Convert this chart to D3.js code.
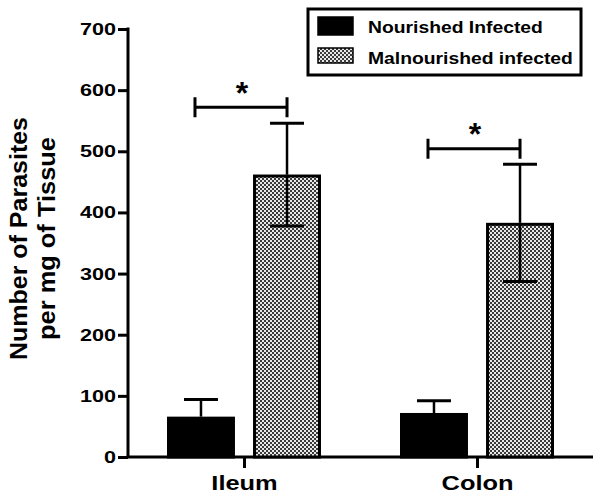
<!DOCTYPE html>
<html>
<head>
<meta charset="utf-8">
<script src="https://cdn.jsdelivr.net/npm/d3@7/dist/d3.min.js"></script>
<style>
  html, body { margin:0; padding:0; background:#fff; overflow:hidden; }
  svg { display:block; }
  svg text { font-family:"Liberation Sans", Arial, sans-serif; font-weight:bold; fill:#000; }
</style>
</head>
<body>
<svg id="chart" width="600" height="499"></svg>
<script>
/* data */
const tissues   = ["Ileum", "Colon"];
const groups    = ["Nourished Infected", "Malnourished infected"];
const means     = { Ileum:[66, 462], Colon:[72, 383] };
const sems      = { Ileum:[28, 84],  Colon:[20, 96] };
const yTicks    = [0, 100, 200, 300, 400, 500, 600, 700];
const sigLevels = { Ileum:572, Colon:504 };

const svg = d3.select("#chart");

/* the original figure's lettering is wider than Liberation Sans, so stretch it */
function widen(sel, k){
  sel.each(function(){
    const w = this.getComputedTextLength();
    d3.select(this).attr("textLength", w*k).attr("lengthAdjust","spacingAndGlyphs");
  });
}

/* checker pattern for the malnourished bars */
const defs = svg.append("defs");
const pat = defs.append("pattern")
  .attr("id","checker").attr("patternUnits","userSpaceOnUse")
  .attr("width",4).attr("height",4);
pat.append("rect").attr("width",4).attr("height",4).attr("fill","#e8e8e8");
pat.append("rect").attr("width",2).attr("height",2).attr("fill","#3a3a3a");
pat.append("rect").attr("x",2).attr("y",2).attr("width",2).attr("height",2).attr("fill","#3a3a3a");

const fills = ["#000", "url(#checker)"];

/* scales */
const y   = d3.scaleLinear().domain([0,700]).range([457,29]);
const x   = d3.scalePoint().domain(tissues).range([244,477]);
const sub = d3.scaleBand().domain(groups).range([-77,77]).paddingInner(0.21);

/* axes */
const yAxis = svg.append("g").attr("transform","translate(128,0)")
  .call(d3.axisLeft(y).tickValues(yTicks).tickSize(10).tickPadding(2));
yAxis.select(".domain").attr("stroke-width",3).attr("d","M0,27.5V458");
yAxis.selectAll(".tick line").attr("stroke-width",3);
yAxis.selectAll(".tick text").attr("font-size",17).attr("font-weight","bold").attr("fill","#000")
  .attr("font-family","Liberation Sans, Arial, sans-serif").call(widen, 1.27);

const xAxis = svg.append("g").attr("transform","translate(0,457)")
  .call(d3.axisBottom(x).tickSize(11).tickPadding(8));
xAxis.select(".domain").attr("stroke-width",3).attr("d","M126.5,0H593");
xAxis.selectAll(".tick line").attr("stroke-width",3);
xAxis.selectAll(".tick text").attr("font-size",20).attr("font-weight","bold").attr("fill","#000")
  .attr("font-family","Liberation Sans, Arial, sans-serif").call(widen, 1.27);

/* bars + error bars */
tissues.forEach(t => {
  groups.forEach((g,i) => {
    const bx = x(t) + sub(g), bw = sub.bandwidth();
    const m = means[t][i], s = sems[t][i];
    const cx = bx + bw/2;
    svg.append("line").attr("x1",cx).attr("x2",cx).attr("y1",y(m+s)).attr("y2",y(m))
      .attr("stroke","#000").attr("stroke-width",2.5);
    svg.append("line").attr("x1",cx-bw/4).attr("x2",cx+bw/4).attr("y1",y(m+s)).attr("y2",y(m+s))
      .attr("stroke","#000").attr("stroke-width",3);
    svg.append("rect").attr("x",bx+1.5).attr("y",y(m)+1.5).attr("width",bw-3).attr("height",y(0)-y(m)-1.5)
      .attr("fill",fills[i]).attr("stroke","#000").attr("stroke-width",3);
    if (i === 1) {  // lower whisker shows through the patterned bar
      svg.append("line").attr("x1",cx).attr("x2",cx).attr("y1",y(m)).attr("y2",y(m-s))
        .attr("stroke","#000").attr("stroke-width",2.5);
      svg.append("line").attr("x1",cx-bw/4).attr("x2",cx+bw/4).attr("y1",y(m-s)).attr("y2",y(m-s))
        .attr("stroke","#000").attr("stroke-width",3);
    }
  });
  /* significance bracket + star */
  const x1 = x(t) + sub(groups[0]) + sub.bandwidth()/2 - 6;
  const x2 = x(t) + sub(groups[1]) + sub.bandwidth()/2;
  const sy = y(sigLevels[t]);
  svg.append("path").attr("d",`M${x1},${sy-10}V${sy+10}M${x1},${sy}H${x2}M${x2},${sy-10}V${sy+10}`)
    .attr("fill","none").attr("stroke","#000").attr("stroke-width",3);
  svg.append("text").attr("x",(x1+x2)/2 + 1).attr("y",sy - 3.5).attr("text-anchor","middle")
    .attr("font-size",32).text("*");
});

/* y title, two lines */
svg.append("text").attr("transform","translate(27,238.5) rotate(-90)").attr("text-anchor","middle")
  .attr("font-size",24).attr("textLength",243).attr("lengthAdjust","spacingAndGlyphs")
  .text("Number of Parasites");
svg.append("text").attr("transform","translate(55,238.5) rotate(-90)").attr("text-anchor","middle")
  .attr("font-size",24).attr("textLength",203).attr("lengthAdjust","spacingAndGlyphs")
  .text("per mg of Tissue");

/* legend */
const lg = svg.append("g");
lg.append("rect").attr("x",308).attr("y",9).attr("width",273).attr("height",66)
  .attr("fill","#fff").attr("stroke","#000").attr("stroke-width",3);
groups.forEach((g,i) => {
  const ly = 17 + i*31;
  lg.append("rect").attr("x",318).attr("y",ly).attr("width",35).attr("height",i ? 15 : 18)
    .attr("fill",fills[i]).attr("stroke","#000").attr("stroke-width",1.5);
  lg.append("text").attr("x",368).attr("y",ly+16).attr("font-size",16.5).text(g).call(widen, 1.17);
});
</script>
</body>
</html>
